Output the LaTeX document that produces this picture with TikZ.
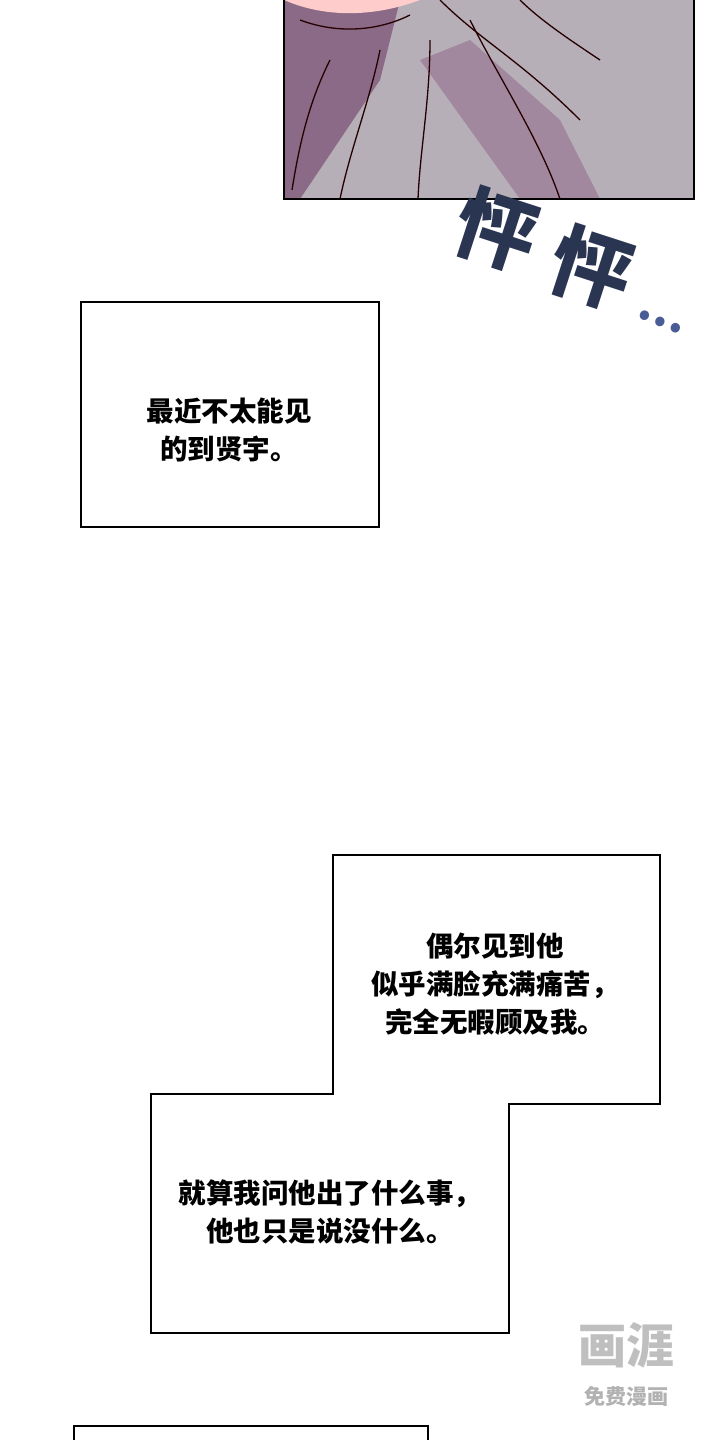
\documentclass[tikz,border=0pt]{standalone}
\usepackage{fontspec}
\newfontfamily\cjk{Noto Sans CJK SC}
\newfontfamily\cjkb{Noto Sans CJK SC Black}
\definecolor{panelbg}{HTML}{B7AFB8}
\definecolor{panelpurple}{HTML}{8A6A86}
\definecolor{sfx}{HTML}{2A3552}
\definecolor{sfxdot}{HTML}{4A5C95}
\tikzset{box/.style={draw=black,line width=1.6pt,fill=white},
 txt/.style={font=\cjk\bfseries\fontsize{27.5}{38}\selectfont,align=center,text=black},
 ink/.style={draw=black!85!red,line width=1.3pt}}
\begin{document}
\begin{tikzpicture}[x=1pt,y=-1pt]
\useasboundingbox (0,0) rectangle (720,1440);
\fill[white] (0,0) rectangle (720,1440);
% top panel
\fill[panelbg] (284,0) rectangle (694,199);
\fill[panelpurple] (284,0) -- (400,0) -- (380,80) -- (300,199) -- (284,199) -- cycle;
\fill[panelpurple!80] (420,60) -- (470,40) -- (560,120) -- (600,199) -- (520,199) -- cycle;
\fill[red!20] (284,0) .. controls (330,20) and (380,15) .. (420,0) -- cycle;
\draw[ink] (300,20) .. controls (340,35) and (380,30) .. (410,15);
\draw[ink] (330,60) .. controls (310,100) and (300,140) .. (292,190);
\draw[ink] (380,50) .. controls (370,100) and (350,150) .. (340,199);
\draw[ink] (430,40) .. controls (430,100) and (420,150) .. (418,199);
\draw[ink] (470,20) .. controls (500,80) and (540,140) .. (560,199);
\draw[ink] (440,0) .. controls (480,40) and (520,60) .. (580,120);
\draw[ink] (520,0) .. controls (540,20) and (570,40) .. (600,60);
\draw[black,line width=2pt] (284,0) -- (284,199) -- (694,199) -- (694,0);
% sfx
\node[rotate=-18,text=sfx,font=\cjkb\fontsize{80}{80}\selectfont,inner sep=0pt] (sfx1) at (497,230) {怦};
\node[rotate=-18,text=sfx,font=\cjkb\fontsize{80}{80}\selectfont,inner sep=0pt] (sfx2) at (592,268) {怦};
\node[rotate=-22,text=sfxdot,font=\cjkb\fontsize{44}{44}\selectfont,inner sep=0pt] (dots) at (660,322) {…};
% box 1
\draw[box] (81,302) rectangle (379,527);
\node[txt] (t1) at (229,430) {最近不太能见\\的到贤宇。};
% merged box
\draw[box] (333,855) -- (660,855) -- (660,1104) -- (509,1104) -- (509,1333) -- (151,1333) -- (151,1094) -- (333,1094) -- cycle;
\node[txt] (t2) at (495,984) {偶尔见到他\\似乎满脸充满痛苦，\\完全无暇顾及我。};
\node[txt] (t3) at (330,1212) {就算我问他出了什么事，\\他也只是说没什么。};
% bottom box
\draw[box] (74,1426) rectangle (428,1445);
% watermark
\node[text=black!25,font=\cjkb\fontsize{48}{48}\selectfont] (wm) at (626,1345) {画涯};
\node[text=black!30,font=\cjk\bfseries\fontsize{21}{21}\selectfont] (wm2) at (626,1396) {免费漫画};
\end{tikzpicture}
\end{document}
